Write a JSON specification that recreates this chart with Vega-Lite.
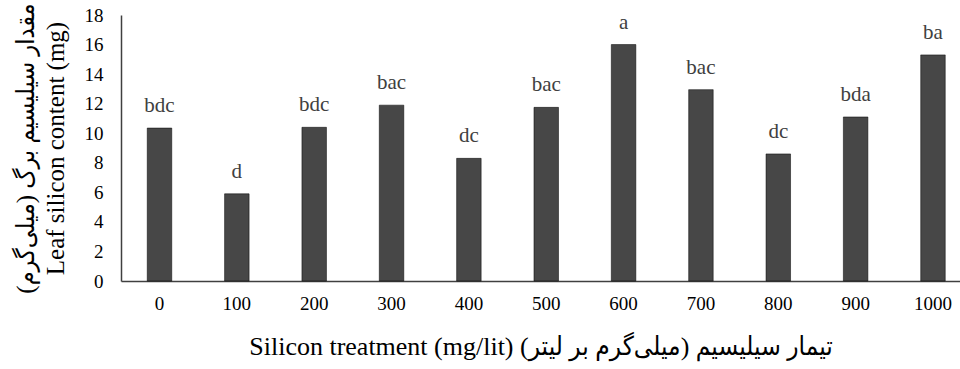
{
  "$schema": "https://vega.github.io/schema/vega-lite/v6.json",
  "autosize": "none",
  "padding": {"left": 121, "top": 15, "right": 0, "bottom": 88},
  "width": 839,
  "height": 266,
  "background": "white",
  "config": {
    "view": {"stroke": null},
    "font": "Liberation Serif"
  },
  "data": {
    "values": [
      {"treatment": "0", "content": 10.35, "group": "bdc"},
      {"treatment": "100", "content": 5.9, "group": "d"},
      {"treatment": "200", "content": 10.4, "group": "bdc"},
      {"treatment": "300", "content": 11.9, "group": "bac"},
      {"treatment": "400", "content": 8.3, "group": "dc"},
      {"treatment": "500", "content": 11.75, "group": "bac"},
      {"treatment": "600", "content": 16.0, "group": "a"},
      {"treatment": "700", "content": 12.95, "group": "bac"},
      {"treatment": "800", "content": 8.6, "group": "dc"},
      {"treatment": "900", "content": 11.1, "group": "bda"},
      {"treatment": "1000", "content": 15.3, "group": "ba"}
    ]
  },
  "encoding": {
    "x": {
      "field": "treatment",
      "type": "nominal",
      "sort": null,
      "scale": {"paddingInner": 0.683, "paddingOuter": 0.265, "align": 0.64},
      "axis": {
        "title": "Silicon treatment (mg/lit) ‏تیمار سیلیسیم (میلی‌گرم بر لیتر)‏",
        "titleFont": "Liberation Serif, DejaVu Sans Condensed",
        "titleFontSize": 26,
        "titleFontWeight": "normal",
        "titleColor": "#000000",
        "titlePadding": 20,
        "labelAngle": 0,
        "labelFont": "Liberation Serif",
        "labelFontSize": 19,
        "labelColor": "#000000",
        "labelPadding": 13,
        "ticks": false,
        "domainColor": "#404040",
        "domainWidth": 1.5,
        "grid": false
      }
    },
    "y": {
      "field": "content",
      "type": "quantitative",
      "scale": {"domain": [0, 18], "nice": false},
      "axis": {
        "title": ["‏مقدار سیلیسیم برگ (میلی‌گرم)‏", "Leaf silicon content (mg)"],
        "titleFont": "Liberation Serif, DejaVu Sans Condensed",
        "titleFontSize": 25,
        "titleFontWeight": "normal",
        "titleColor": "#000000",
        "titleLineHeight": 30,
        "titlePadding": 16,
        "values": [0, 2, 4, 6, 8, 10, 12, 14, 16, 18],
        "labelFont": "Liberation Serif",
        "labelFontSize": 19,
        "labelColor": "#000000",
        "labelPadding": 18,
        "ticks": false,
        "domainColor": "#404040",
        "domainWidth": 1.5,
        "grid": false
      }
    }
  },
  "layer": [
    {
      "mark": {"type": "bar", "color": "#474747", "stroke": "#000000", "strokeWidth": 0.5}
    },
    {
      "mark": {"type": "text", "baseline": "alphabetic", "dy": -16, "font": "Liberation Serif", "fontSize": 21, "color": "#404040"},
      "encoding": {"text": {"field": "group"}}
    }
  ]
}
